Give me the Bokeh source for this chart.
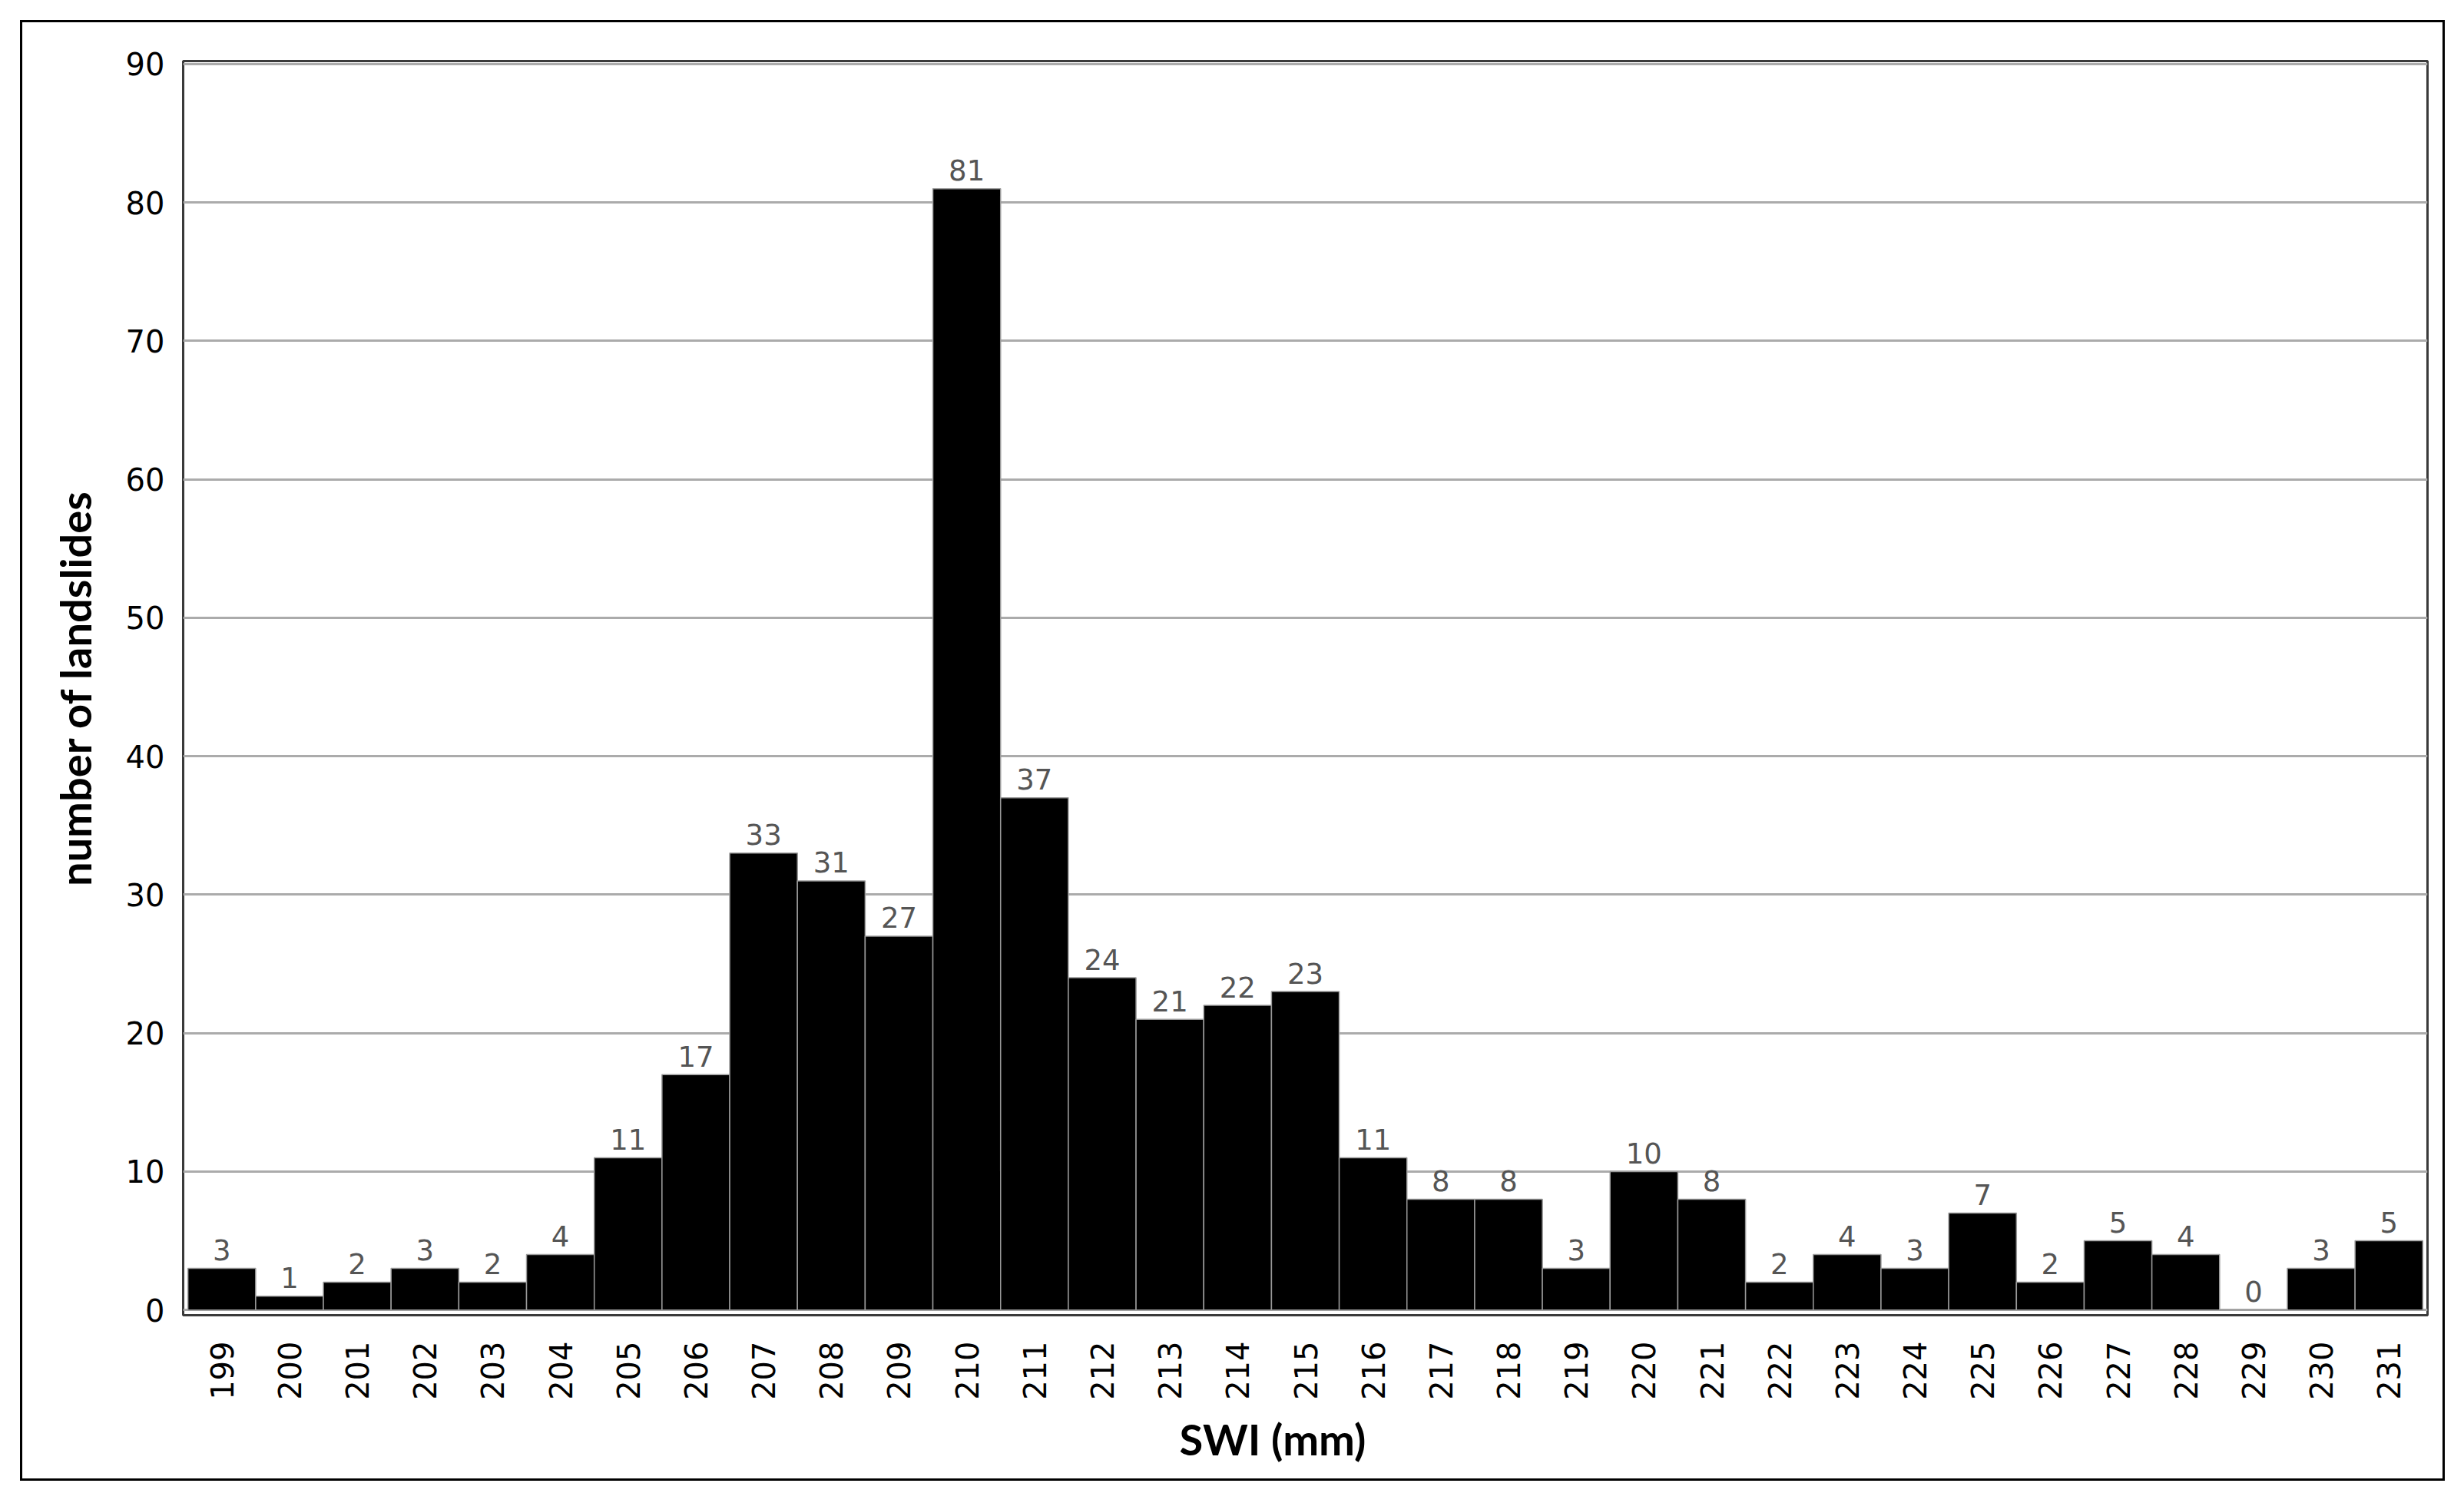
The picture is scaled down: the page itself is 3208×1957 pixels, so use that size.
import math
from bokeh.plotting import figure
from bokeh.models import Range1d, FixedTicker, ColumnDataSource, Title
from bokeh.core.properties import value
from bokeh.embed import file_html
from bokeh.resources import INLINE

# ---- data ----
swi = [199, 200, 201, 202, 203, 204, 205, 206, 207, 208, 209, 210, 211, 212, 213, 214, 215,
       216, 217, 218, 219, 220, 221, 222, 223, 224, 225, 226, 227, 228, 229, 230, 231]
counts = [3, 1, 2, 3, 2, 4, 11, 17, 33, 31, 27, 81, 37, 24, 21, 22, 23,
          11, 8, 8, 3, 10, 8, 2, 4, 3, 7, 2, 5, 4, 0, 3, 5]
y_ticks = [0, 10, 20, 30, 40, 50, 60, 70, 80, 90]

src = ColumnDataSource(dict(x=swi, y=counts, lab=[str(c) for c in counts]))

p = figure(width=3157, height=1902, output_backend="svg", toolbar_location=None,
           x_range=Range1d(swi[0] - 0.57, swi[-1] + 0.57),
           y_range=Range1d(-0.38, 90.22),
           min_border_left=209, min_border_right=26, min_border_top=50, min_border_bottom=219)
p.styles = {"border": "3px solid black", "margin-left": "26px", "margin-top": "26px"}

p.background_fill_color = "white"
p.border_fill_color = "white"
p.outline_line_color = "#3a3a3a"
p.outline_line_width = 3

p.vbar(x="x", top="y", bottom=0, width=1.0, source=src,
       fill_color="black", line_color="#9a9a9a", line_width=1.5)

p.text(x="x", y="y", text="lab", source=src, text_align="center", text_baseline="alphabetic",
       y_offset=-24, text_font=value("DejaVu Sans"), text_font_size="37px", text_color="#555555")

p.xgrid.visible = False
p.ygrid.grid_line_color = "#ababab"
p.ygrid.grid_line_width = 3
p.yaxis.ticker = FixedTicker(ticks=y_ticks)
p.xaxis.ticker = FixedTicker(ticks=swi)

for ax in (p.xaxis[0], p.yaxis[0]):
    ax.axis_line_color = None
    ax.major_tick_line_color = None
    ax.minor_tick_line_color = None
    ax.major_label_text_font = "DejaVu Sans"
    ax.major_label_text_font_size = "40px"
    ax.major_label_text_color = "black"
    ax.major_label_standoff = 28
    ax.axis_label_text_font = "Lato"
    ax.axis_label_text_font_style = "bold"
    ax.axis_label_text_font_size = "56px"
    ax.axis_label_text_color = "black"

p.yaxis.major_label_standoff = 18
p.xaxis.major_label_orientation = math.pi / 2
p.yaxis.axis_label = "number of landslides"
p.yaxis.axis_label_standoff = 30

xt = Title(text="SWI (mm)", align="left", offset=1297, standoff=25,
           text_font="Lato", text_font_style="bold", text_font_size="56px", text_color="black")
p.add_layout(xt, "below")

open("out.html", "w").write(file_html(p, INLINE))
